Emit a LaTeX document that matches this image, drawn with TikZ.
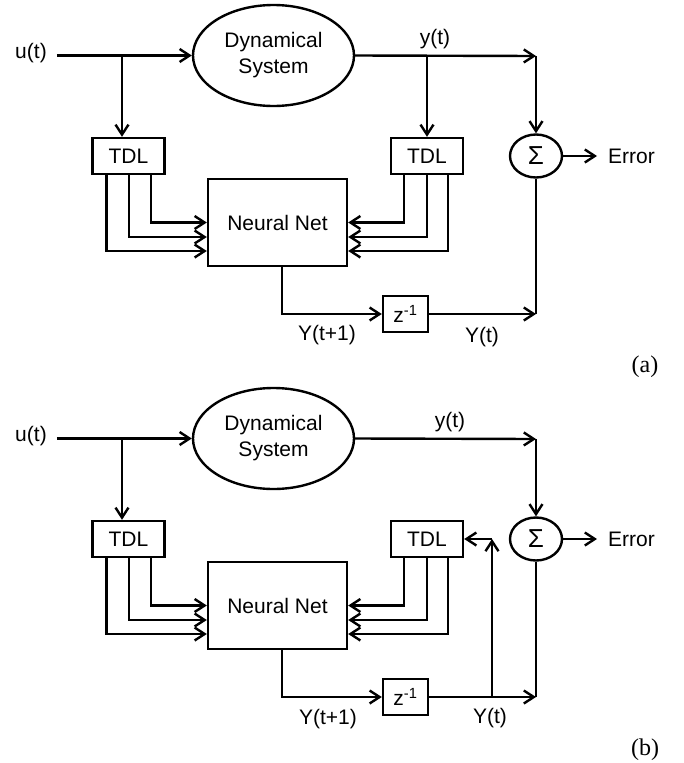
\documentclass[tikz,border=0pt]{standalone}
\usepackage{fontspec}
\setmainfont{Liberation Sans}
\newfontfamily\capfont{Liberation Serif}
\usetikzlibrary{arrows.meta,shapes.geometric,calc}
\begin{document}
\begin{tikzpicture}[x=1pt,y=-1pt,line width=2.4pt,
  arr/.style={-{Straight Barb[length=10pt,width=13pt,line width=2.4pt]}},
  txt/.style={font=\fontsize{21}{26}\selectfont},
  lab/.style={txt,inner sep=0pt},
  tdlbox/.style={draw,rectangle,txt,minimum width=72pt,minimum height=36pt,inner sep=0pt},
  nnbox/.style={draw,rectangle,txt,minimum width=139pt,minimum height=87pt,inner sep=0pt},
  zbox/.style={draw,rectangle,txt,minimum width=45pt,minimum height=36pt,inner sep=0pt},
  sysell/.style={draw,ellipse,txt,align=center,minimum width=161pt,minimum height=101pt,inner sep=0pt},
  sig/.style={draw,ellipse,font=\fontsize{26}{30}\selectfont,minimum width=52pt,minimum height=43pt,inner sep=0pt},
  capl/.style={font=\capfont\fontsize{24}{28}\selectfont,inner sep=0pt}]
\useasboundingbox (0,0) rectangle (683,763);

% ---------------- panel (a) ----------------
\node[lab,inner xsep=9pt] (uA) at (31,53.5) {u(t)};
\node[sysell] (dsA) at (273.5,55.5) {Dynamical\\System};
\coordinate (brA) at (122,56);
\node[tdlbox] (tdlLA) at (128.5,156) {TDL};
\node[tdlbox] (tdlRA) at (427,156) {TDL};
\node[nnbox] (nnA) at (277.5,222.5) {Neural Net};
\node[sig] (sigA) at (536,156) {Σ};
\node[zbox] (zA) at (405.5,314) {z\textsuperscript{-1}};
\node[lab] (ytA) at (435,39) {y(t)};
\coordinate (yrA) at (427,56);
\coordinate (cTA) at (536,56);
\coordinate (cBA) at (536,314);
\node[lab,anchor=west] (errA) at (607,156) {Error};
\node[lab] (Yt1A) at (327,335) {Y(t+1)};
\node[lab] (YtA) at (482,337) {Y(t)};
\node[capl] (capA) at (645,367) {(a)};

\draw[arr] (uA.east |- dsA.west) -- (dsA.west);
\draw[arr] (brA) -- (brA |- tdlLA.north);
\draw[arr] (dsA.east) -- (cTA);
\draw[arr] (yrA) -- (tdlRA.north);
\draw[arr] (cTA) -- (sigA.north);
\draw[arr] (sigA.east) -- ([xshift=-10pt]errA.west);
\draw[arr] ([xshift=-22pt]tdlLA.south) |- ([yshift=-28.5pt]nnA.west);
\draw[arr] ([xshift=0.5pt]tdlLA.south) |- ([yshift=-14.5pt]nnA.west);
\draw[arr] ([xshift=22.5pt]tdlLA.south) |- (nnA.west);
\draw[arr] ([xshift=-23pt]tdlRA.south) |- (nnA.east);
\draw[arr] (tdlRA.south) |- ([yshift=-14.5pt]nnA.east);
\draw[arr] ([xshift=21pt]tdlRA.south) |- ([yshift=-28.5pt]nnA.east);
\draw[arr] ([xshift=4.5pt]nnA.south) |- (zA.west);
\draw[arr] (zA.east) -- (cBA);
\draw (sigA.south) -- (cBA);

% ---------------- panel (b) ----------------
\node[lab,inner xsep=9pt] (uB) at (31,436.5) {u(t)};
\node[sysell] (dsB) at (273.5,438.5) {Dynamical\\System};
\coordinate (brB) at (122,439);
\node[tdlbox] (tdlLB) at (128.5,539) {TDL};
\node[tdlbox] (tdlRB) at (427,539) {TDL};
\node[nnbox] (nnB) at (277.5,605.5) {Neural Net};
\node[sig] (sigB) at (536,539) {Σ};
\node[zbox] (zB) at (405.5,697) {z\textsuperscript{-1}};
\node[lab] (ytB) at (450,422) {y(t)};
\coordinate (cTB) at (536,439);
\coordinate (cBB) at (536,697);
\coordinate (fbB) at (492,697);
\coordinate (fbtB) at (492,539);
\node[lab,anchor=west] (errB) at (607,539) {Error};
\node[lab] (Yt1B) at (328,719) {Y(t+1)};
\node[lab] (YtB) at (490,718) {Y(t)};
\node[capl] (capB) at (645,750) {(b)};

\draw[arr] (uB.east |- dsB.west) -- (dsB.west);
\draw[arr] (brB) -- (brB |- tdlLB.north);
\draw[arr] (dsB.east) -- (cTB);
\draw[arr] (cTB) -- (sigB.north);
\draw[arr] (sigB.east) -- ([xshift=-10pt]errB.west);
\draw[arr] ([xshift=-22pt]tdlLB.south) |- ([yshift=-28.5pt]nnB.west);
\draw[arr] ([xshift=0.5pt]tdlLB.south) |- ([yshift=-14.5pt]nnB.west);
\draw[arr] ([xshift=22.5pt]tdlLB.south) |- (nnB.west);
\draw[arr] ([xshift=-23pt]tdlRB.south) |- (nnB.east);
\draw[arr] (tdlRB.south) |- ([yshift=-14.5pt]nnB.east);
\draw[arr] ([xshift=21pt]tdlRB.south) |- ([yshift=-28.5pt]nnB.east);
\draw[arr] ([xshift=4.5pt]nnB.south) |- (zB.west);
\draw[arr] (zB.east) -- (cBB);
\draw (sigB.south) -- (cBB);
\draw[arr] (fbB) -- (fbtB);
\draw[arr] (fbtB) -- (tdlRB.east);
\end{tikzpicture}
\end{document}
